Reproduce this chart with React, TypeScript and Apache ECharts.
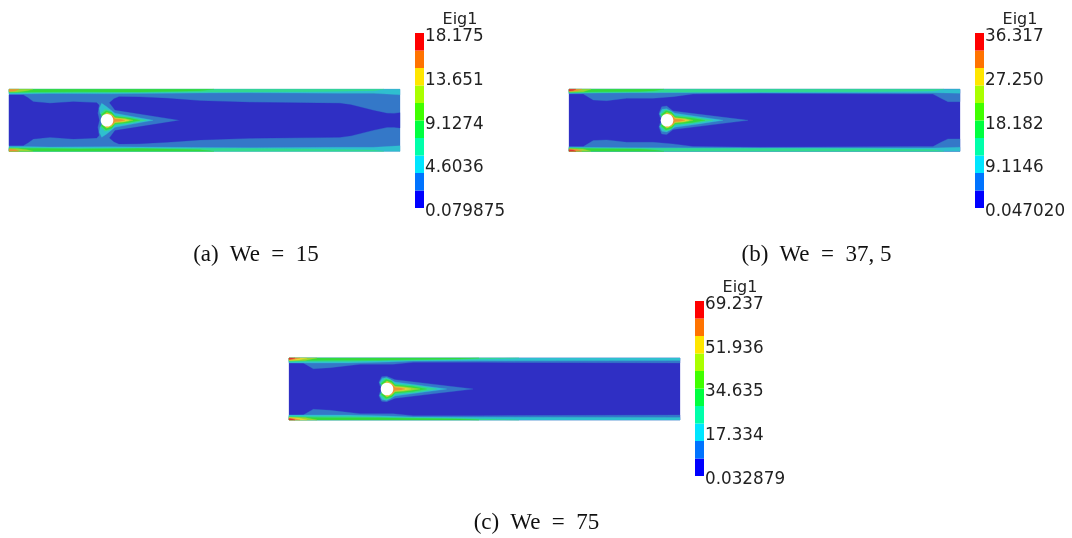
import React, { useEffect, useRef } from "react";
import * as echarts from "echarts";

type Pt = number[];

// Contour level names → colours of the shaded field
const LEVEL_COLORS = ["#2f2fc4", "#3478c8", "#2fbfcf", "#33d990", "#33d93d", "#99d633", "#e0d633", "#e89433", "#e03333"];
// Colour bar cells, lowest value first
const BAR_COLORS = ["#0000ff", "#0073ff", "#00e6ff", "#00ffaa", "#00ff40", "#40ff00", "#aaff00", "#ffe600", "#ff7300", "#ff0000"];

const BAR_TITLE = "Eig1";
const TICKS_A = ["0.079875", "4.6036", "9.1274", "13.651", "18.175"];
const TICKS_B = ["0.047020", "9.1146", "18.182", "27.250", "36.317"];
const TICKS_C = ["0.032879", "17.334", "34.635", "51.936", "69.237"];

const CYL = [98, 0, 6.3];
const LENGTH = 391;
const HALF = 31;

// Panel (a): upper-half outlines, [x along channel, height above centreline]
const A_DARK_LEFT = [[0, 25.3], [14.3, 25.3], [19, 22.5], [24.3, 18.6], [41, 17], [64.3, 18.6], [87.7, 17.6], [90, 15.3], [88.7, 7], [90.3, 0]];
const A_DARK_RIGHT = [[171, 0], [106, 10.3], [100.5, 17.6], [105, 21.5], [110, 23.6], [130, 23.4], [158, 22], [191, 19.6], [241, 18], [331, 17], [342, 15.5], [351, 13.3], [365, 9.8], [378, 7], [385, 6.9], [391, 7.6]];
const A_WALL = [
  [2, [[0, 26.3], [14, 26.3], [40, 26.8], [100, 26.5], [191, 27.3], [241, 27.5], [331, 27], [365, 27], [391, 25.5]]],
  [3, [[0, 27.2], [60, 27.6], [150, 28], [241, 28.2], [300, 28.6], [365, 29.6], [375, 31]]],
  [4, [[0, 28], [30, 28.2], [70, 28.6], [110, 28.4], [130, 28.3], [170, 29], [191, 29.5], [205, 31]]],
  [5, [[0, 28.3], [8, 28.3], [18, 29.5], [24, 31]]],
  [7, [[0, 28.8], [6, 29.3], [10, 31]]],
];
const A_LOBES = [
  [2, [[144, 0], [125, 3.5], [106, 7], [97.7, 13.6], [92.7, 17], [90.3, 12], [91, 7], [94, 4], [96, 0]]],
  [3, [[137.7, 0], [122, 2.8], [106, 4.8], [101, 9.6], [96, 11], [91.7, 7], [93, 3.5], [96, 0]]],
  [4, [[131, 0], [120, 2.2], [106, 3.8], [102.7, 8], [97, 9.6], [92.3, 5.6], [94, 2.5], [96, 0]]],
  [5, [[124, 0], [116, 1.8], [106, 2.8], [102.7, 6.3], [97.7, 8], [93, 4], [96, 0]]],
  [6, [[120, 0], [114, 1.4], [106, 2], [103, 5], [98, 7.4], [93.5, 3], [96, 0]]],
  [7, [[116, 0], [112, 1], [106, 1.4], [104, 4], [98, 6.8], [94, 3], [96, 0]]],
];

// Panel (b)
const B_BLUE = [[0, 26.3], [14.3, 26.3], [24.3, 20.3], [37.7, 19.6], [57.7, 22], [84, 22], [104, 23.6], [124, 26.3], [191, 27], [348, 26.3], [364, 26.3], [372, 22], [379, 18.6], [391, 18.6]];
const B_WALL = [
  [2, [[0, 27], [60, 27.5], [191, 27.6], [364, 27.6], [391, 27]]],
  [3, [[0, 27.4], [60, 28], [191, 28.2], [300, 28.5], [364, 29.3], [375, 31]]],
  [4, [[0, 28], [30, 28.5], [70, 28.8], [85, 29.6], [95, 31]]],
  [5, [[0, 28.3], [14, 28.6], [22, 31]]],
  [7, [[0, 28.8], [8, 29.2], [13, 31]]],
  [8, [[0, 29.4], [4, 29.7], [7, 31]]],
];
const B_LOBES = [
  [1, [[179, 0], [104, 9.3], [97.7, 14.3], [92.7, 13.6], [90, 7], [91, 3], [94, 0]]],
  [2, [[154, 0], [130, 3.6], [106, 7], [97.7, 11.6], [93, 11], [90.5, 6], [94, 3], [96, 0]]],
  [3, [[144, 0], [125, 3], [106, 4.8], [101, 9.6], [96, 10.5], [91.5, 6], [93, 3], [96, 0]]],
  [4, [[136, 0], [122, 2.4], [106, 3.8], [102.7, 8], [97, 9.6], [92.3, 5.6], [94, 2.5], [96, 0]]],
  [5, [[124, 0], [116, 1.8], [106, 2.8], [102.7, 6.3], [97.7, 8], [93, 4], [96, 0]]],
  [6, [[120, 0], [114, 1.4], [106, 2], [103, 5], [98, 7.4], [93.5, 3], [96, 0]]],
  [7, [[116, 0], [112, 1], [106, 1.4], [104, 4], [98, 6.8], [94, 3], [96, 0]]],
];

// Panel (c)
const C_BLUE = [[0, 26.7], [14.3, 26], [24.3, 20.3], [41, 21.3], [71, 24.7], [104, 24.7], [124, 26.7], [191, 26.7], [391, 26]];
const C_WALL = [
  [2, [[0, 26], [60, 26], [100, 27], [124, 28], [191, 28.3], [391, 28.5]]],
  [3, [[0, 27], [20, 27.5], [60, 27.5], [100, 28.4], [150, 29], [200, 30], [230, 31]]],
  [4, [[0, 28.2], [16, 28.5], [40, 28.7], [90, 28.8], [115, 29.2], [170, 30], [190, 31]]],
  [5, [[0, 28.3], [16, 28.6], [28, 31]]],
  [6, [[0, 28.6], [10, 29], [18, 31]]],
  [7, [[0, 29], [5, 29.5], [11, 31]]],
  [8, [[0, 29.6], [3, 29.9], [6, 31]]],
];
const C_LOBES = [
  [1, [[184, 0], [106, 9.3], [97.7, 12.7], [92.7, 12.3], [90, 7], [91, 3], [94, 0]]],
  [2, [[157.7, 0], [130, 3.8], [106, 7], [97.7, 11.5], [93, 10.5], [90.5, 6], [94, 3], [96, 0]]],
  [3, [[147.7, 0], [128, 3.2], [106, 5.2], [101, 9.6], [96, 10.5], [91.5, 6], [93, 3], [96, 0]]],
  [4, [[137.7, 0], [124, 2.6], [106, 4], [102.7, 8], [97, 9.6], [92.3, 5.6], [94, 2.5], [96, 0]]],
  [5, [[131, 0], [118, 2], [106, 3], [102.7, 6.3], [97.7, 8], [93, 4], [96, 0]]],
  [6, [[122, 0], [114, 1.5], [106, 2.1], [103, 5], [98, 7.4], [93.5, 3], [96, 0]]],
  [7, [[116, 0], [112, 1], [106, 1.4], [104, 4], [98, 6.8], [94, 3], [96, 0]]],
];

const mirror = (p: Pt[]): Pt[] => [...p, ...[...p].reverse().map(([x, h]) => [x, -h])];
const wallPair = (p: Pt[]): Pt[][] => {
  const top = [...p, [p[p.length - 1][0], HALF], [p[0][0], HALF]];
  return [top, top.map(([x, h]) => [x, -h])];
};

type Shape = { level: number; pts: Pt[] };
const FULL: Pt[] = [[0, HALF], [LENGTH, HALF], [LENGTH, -HALF], [0, -HALF]];
const buildShapes = (base: number, mids: [number, Pt[]][], strips: Pt[][], walls: any[], lobes: any[]): Shape[] => {
  const out: Shape[] = [{ level: base, pts: FULL }];
  mids.forEach(([level, p]) => out.push({ level, pts: mirror(p) }));
  strips.forEach((p) => wallPair(p).forEach((pts) => out.push({ level: 1, pts })));
  walls.forEach(([level, p]) => wallPair(p).forEach((pts) => out.push({ level, pts })));
  lobes.forEach(([level, p]) => out.push({ level, pts: mirror(p) }));
  return out;
};

const SHAPES_A = buildShapes(1, [[0, A_DARK_LEFT], [0, A_DARK_RIGHT]], [], A_WALL, A_LOBES);
const SHAPES_B = buildShapes(0, [], [B_BLUE], B_WALL, B_LOBES);
const SHAPES_C = buildShapes(0, [], [C_BLUE], C_WALL, C_LOBES);

const PANELS = [
  { shapes: SHAPES_A, ticks: TICKS_A, left: 9, top: 89.3, barLeft: 415, barTop: 33 },
  { shapes: SHAPES_B, ticks: TICKS_B, left: 569, top: 89.3, barLeft: 975, barTop: 33 },
  { shapes: SHAPES_C, ticks: TICKS_C, left: 289, top: 358, barLeft: 695, barTop: 301 },
];

const CAPTIONS = [
  { text: "(a)  We  =  15", x: 256, y: 253 },
  { text: "(b)  We  =  37, 5", x: 816.5, y: 253 },
  { text: "(c)  We  =  75", x: 536.5, y: 521 },
];

export default function App() {
  const ref = useRef<HTMLDivElement>(null);
  useEffect(() => {
    const chart = echarts.init(ref.current!, undefined, { renderer: "svg" });
    const grid: any[] = [];
    const xAxis: any[] = [];
    const yAxis: any[] = [];
    const series: any[] = [];
    PANELS.forEach((p, i) => {
      const g = i * 2;
      grid.push({ left: p.left, top: p.top, width: LENGTH, height: 62 });
      xAxis.push({ type: "value", gridIndex: g, min: 0, max: LENGTH, show: false });
      yAxis.push({ type: "value", gridIndex: g, min: -HALF, max: HALF, show: false });
      series.push({
        type: "custom",
        xAxisIndex: g,
        yAxisIndex: g,
        clip: false,
        silent: true,
        data: p.shapes.map((_, k) => [k]),
        renderItem: (_: any, api: any) => {
          const s = p.shapes[api.value(0)];
          return {
            type: "polygon",
            shape: { points: s.pts.map((q) => api.coord(q)) },
            style: { fill: LEVEL_COLORS[s.level], stroke: LEVEL_COLORS[s.level], lineWidth: 0.3 },
          };
        },
      });
      series.push({
        type: "custom",
        xAxisIndex: g,
        yAxisIndex: g,
        clip: false,
        silent: true,
        data: [CYL],
        renderItem: (_: any, api: any) => {
          const c = api.coord([api.value(0), api.value(1)]);
          const r = api.size([api.value(2), 0])[0];
          return { type: "circle", shape: { cx: c[0], cy: c[1], r }, style: { fill: "#ffffff" } };
        },
      });

      const b = g + 1;
      const vals = p.ticks.map(Number);
      const lo = vals[0];
      const hi = vals[vals.length - 1];
      grid.push({ left: p.barLeft, top: p.barTop, width: 9, height: 175 });
      xAxis.push({ type: "value", gridIndex: b, min: 0, max: 1, show: false });
      yAxis.push({ type: "value", gridIndex: b, min: lo, max: hi, show: false });
      const step = (hi - lo) / BAR_COLORS.length;
      series.push({
        type: "custom",
        xAxisIndex: b,
        yAxisIndex: b,
        silent: true,
        clip: false,
        data: BAR_COLORS.map((_, k) => [k]),
        renderItem: (_: any, api: any) => {
          const k = api.value(0);
          const a = api.coord([0, lo + step * (k + 1)]);
          const z = api.coord([1, lo + step * k]);
          return { type: "rect", shape: { x: a[0], y: a[1], width: z[0] - a[0], height: z[1] - a[1] }, style: { fill: BAR_COLORS[k] } };
        },
      });
      series.push({
        type: "custom",
        xAxisIndex: b,
        yAxisIndex: b,
        silent: true,
        clip: false,
        data: vals.map((v, k) => [v, k]),
        renderItem: (_: any, api: any) => {
          const c = api.coord([1, api.value(0)]);
          return {
            type: "text",
            x: c[0] + 1,
            y: c[1] + 2,
            style: { text: p.ticks[api.value(1)], fill: "#222222", font: '16.8px "DejaVu Sans"', textAlign: "left", textVerticalAlign: "middle" },
          };
        },
      });
    });
    chart.setOption({
      animation: false,
      backgroundColor: "#ffffff",
      grid,
      xAxis,
      yAxis,
      series,
      graphic: [
        ...PANELS.map((p) => ({
          type: "text",
          x: p.barLeft + 45,
          y: p.barTop - 15,
          style: { text: BAR_TITLE, fill: "#222222", font: '16px "DejaVu Sans"', textAlign: "center", textVerticalAlign: "middle" },
        })),
        ...CAPTIONS.map((c) => ({
          type: "text",
          x: c.x,
          y: c.y,
          style: { text: c.text, fill: "#111111", font: '23px "Liberation Serif"', textAlign: "center", textVerticalAlign: "middle" },
        })),
      ],
    });
    return () => chart.dispose();
  }, []);
  return <div ref={ref} style={{ position: "fixed", left: 0, top: 0, width: 1072, height: 538, filter: "blur(0.45px)" }} />;
}
